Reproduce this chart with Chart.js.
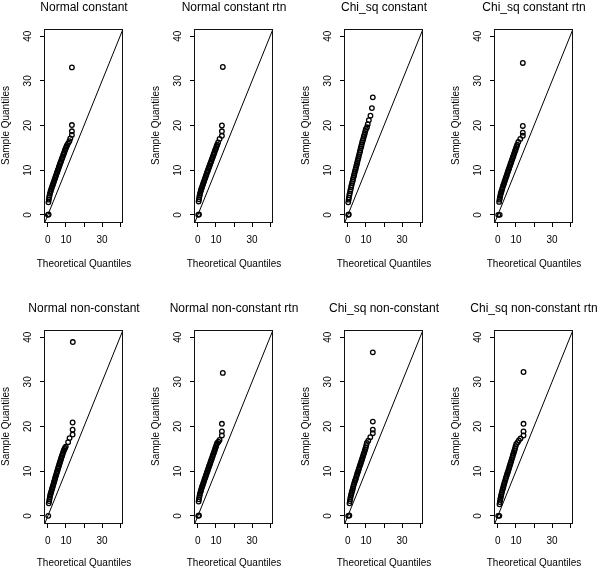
<!DOCTYPE html>
<html><head><meta charset="utf-8">
<script src="https://cdn.jsdelivr.net/npm/chart.js@4.4.0/dist/chart.umd.min.js"></script>
<style>
html,body{margin:0;padding:0;background:#fff;overflow:hidden;width:600px;height:571px;position:relative;}
canvas{position:absolute;}
</style></head><body>
<script>
// ---- data ----
const panelTitles = ['Normal constant','Normal constant rtn','Chi_sq constant','Chi_sq constant rtn',
  'Normal non-constant','Normal non-constant rtn','Chi_sq non-constant','Chi_sq non-constant rtn'];
const axisRange = [-1.6, 41.6];
const refLine = [-1.6, 41.6];
const xTickValues = [0, 10, 20, 30, 40];
const xTickLabels = ['0', '10', '', '30', ''];
const yTickValues = [0, 10, 20, 30, 40];
const yTickLabels = ['0', '10', '20', '30', '40'];
const xAxisTitle = 'Theoretical Quantiles';
const yAxisTitle = 'Sample Quantiles';

const p1Theo = [0.0,0.4,0.3,0.5,0.7,0.9,1.1,1.4,1.6,1.9,2.2,2.5,2.8,3.1,3.4,3.7,4.0,4.3,4.6,4.9,5.2,5.5,5.8,6.1,6.4,6.7,7.0,7.3,7.6,7.9,8.2,8.5,8.8,9.1,9.4,9.7,10.0,10.3,10.6,11.2,11.9,12.4,13.3,13.3,13.3,13.3];
const p1Sample = [0.0,0.1,2.8,3.4,3.9,4.3,4.7,5.1,5.4,5.8,6.1,6.5,6.8,7.2,7.5,7.9,8.2,8.6,8.9,9.3,9.6,10.0,10.3,10.7,11.0,11.4,11.7,12.0,12.4,12.7,13.0,13.4,13.7,14.0,14.4,14.7,15.0,15.3,15.6,16.0,16.5,17.1,17.9,18.7,20.1,33.0];

const p2Theo = [0.2,0.6,0.4,0.6,0.8,1.0,1.2,1.5,1.7,2.0,2.3,2.6,2.9,3.2,3.5,3.8,4.1,4.4,4.7,5.0,5.3,5.6,5.9,6.2,6.5,6.8,7.1,7.4,7.7,8.0,8.3,8.6,8.9,9.2,9.5,9.8,10.1,10.4,10.7,11.2,12.0,13.3,13.3,13.3,13.8];
const p2Sample = [0.0,0.1,3.0,3.5,4.0,4.4,4.8,5.2,5.5,5.9,6.2,6.6,6.9,7.3,7.6,8.0,8.3,8.7,9.0,9.4,9.7,10.0,10.4,10.7,11.0,11.4,11.7,12.0,12.4,12.7,13.0,13.4,13.7,14.0,14.4,14.7,15.0,15.4,15.7,16.2,17.0,17.7,18.7,20.0,33.1];

const p3Theo = [0.2,0.5,0.2,0.4,0.6,0.8,1.0,1.3,1.5,1.8,2.0,2.3,2.6,2.8,3.1,3.4,3.6,3.9,4.2,4.4,4.7,5.0,5.2,5.5,5.8,6.0,6.3,6.6,6.8,7.1,7.4,7.6,7.9,8.2,8.5,8.8,9.1,9.4,9.7,10.0,10.6,11.0,11.6,12.5,13.3,13.8];
const p3Sample = [0.0,0.1,2.8,3.4,3.9,4.4,4.8,5.3,5.7,6.2,6.6,7.1,7.5,7.9,8.4,8.8,9.2,9.7,10.1,10.5,11.0,11.4,11.8,12.3,12.7,13.1,13.6,14.0,14.4,14.9,15.3,15.7,16.2,16.6,17.0,17.5,17.9,18.3,18.8,19.2,19.6,20.3,21.2,22.2,23.9,26.3];

const p4Theo = [0.2,1.0,0.7,0.9,1.1,1.3,1.5,1.8,2.0,2.3,2.6,2.9,3.2,3.5,3.8,4.1,4.4,4.7,5.0,5.3,5.6,5.9,6.2,6.5,6.8,7.1,7.4,7.7,8.0,8.3,8.6,8.9,9.2,9.5,9.8,10.1,10.4,10.7,11.3,12.4,13.8,13.8,13.8,13.8];
const p4Sample = [0.0,0.0,2.9,3.4,3.8,4.2,4.6,5.0,5.3,5.7,6.1,6.5,6.8,7.2,7.6,7.9,8.3,8.6,9.0,9.4,9.7,10.1,10.4,10.8,11.1,11.5,11.8,12.2,12.5,12.9,13.2,13.6,13.9,14.3,14.6,15.0,15.3,15.7,16.3,17.0,17.7,18.4,19.9,34.0];

const p5Theo = [0.2,0.5,0.7,0.9,1.1,1.3,1.5,1.8,2.0,2.3,2.5,2.8,3.0,3.3,3.5,3.8,4.0,4.3,4.5,4.8,5.0,5.3,5.5,5.8,6.0,6.3,6.5,6.8,7.0,7.3,7.5,7.8,8.0,8.3,8.6,8.9,9.2,9.5,9.9,11.2,12.0,13.7,13.7,13.7,13.8];
const p5Sample = [0.0,2.8,3.3,3.8,4.2,4.6,4.9,5.3,5.6,6.0,6.3,6.7,7.0,7.4,7.7,8.1,8.4,8.8,9.1,9.5,9.8,10.1,10.5,10.8,11.1,11.5,11.8,12.1,12.4,12.8,13.1,13.4,13.7,14.0,14.4,14.7,15.0,15.2,15.5,16.5,17.4,18.2,19.3,20.9,38.9];

const p6Theo = [0.2,0.6,0.4,0.6,0.8,1.0,1.2,1.5,1.7,2.0,2.3,2.6,2.9,3.2,3.5,3.8,4.1,4.4,4.7,5.0,5.3,5.6,5.9,6.2,6.5,6.8,7.1,7.4,7.7,8.0,8.3,8.6,8.9,9.2,9.5,9.8,10.1,10.4,10.7,11.4,12.0,13.3,13.3,13.3,13.8];
const p6Sample = [0.0,0.1,3.2,3.7,4.2,4.6,5.0,5.4,5.7,6.1,6.5,6.8,7.2,7.5,7.9,8.3,8.6,9.0,9.3,9.7,10.0,10.4,10.7,11.1,11.4,11.8,12.1,12.5,12.8,13.2,13.5,13.9,14.2,14.6,14.9,15.3,15.6,16.0,16.3,16.6,17.0,18.0,18.9,20.6,32.0];

const p7Theo = [0.2,0.8,0.9,1.1,1.3,1.5,1.7,2.0,2.2,2.5,2.8,3.0,3.3,3.6,3.9,4.2,4.5,4.8,5.1,5.4,5.7,6.0,6.3,6.6,6.9,7.2,7.5,7.8,8.1,8.4,8.7,9.0,9.3,9.6,9.9,10.2,10.5,11.3,12.4,13.8,13.8,13.8,13.8];
const p7Sample = [0.0,0.1,2.8,3.3,3.8,4.2,4.6,5.0,5.4,5.8,6.2,6.6,7.0,7.4,7.8,8.1,8.5,8.9,9.3,9.7,10.0,10.4,10.8,11.2,11.5,11.9,12.3,12.6,13.0,13.4,13.8,14.1,14.5,14.9,15.3,15.8,16.3,16.8,17.6,18.5,19.3,21.1,36.6];

const p8Theo = [0.2,0.8,0.9,1.1,1.3,1.5,1.7,1.9,2.2,2.4,2.7,3.0,3.2,3.5,3.8,4.1,4.4,4.7,5.0,5.3,5.6,5.9,6.2,6.5,6.8,7.1,7.4,7.7,8.0,8.3,8.6,8.9,9.2,9.5,9.8,10.2,11.0,11.6,12.5,14.2,14.2,14.2,14.2];
const p8Sample = [0.0,0.0,2.6,3.1,3.6,4.0,4.4,4.8,5.2,5.6,6.0,6.4,6.8,7.2,7.6,8.0,8.4,8.8,9.2,9.6,9.9,10.3,10.7,11.1,11.5,11.9,12.3,12.7,13.1,13.5,13.9,14.3,14.7,15.1,15.6,16.1,16.5,16.9,17.3,18.0,18.9,20.6,32.2];

const panelTheo = [p1Theo,p2Theo,p3Theo,p4Theo,p5Theo,p6Theo,p7Theo,p8Theo];
const panelSample = [p1Sample,p2Sample,p3Sample,p4Sample,p5Sample,p6Sample,p7Sample,p8Sample];

// ---- drawing ----
Chart.defaults.font.family = "'Liberation Sans', Arial, sans-serif";
Chart.defaults.color = '#000';

const boxPlugin = {
  id: 'plotBox',
  afterDatasetsDraw(chart) {
    const {ctx, chartArea: a} = chart;
    ctx.save();
    ctx.strokeStyle = '#111';
    ctx.lineWidth = 1;
    ctx.strokeRect(Math.round(a.left) - 0.5, Math.round(a.top) + 0.5,
      Math.round(a.right - a.left), Math.round(a.bottom - a.top));
    ctx.restore();
  }
};

const rowTops = [0, 301];
const xTitlePad = [14.5, 16.7];
const CW = 168, CH = 285;

panelTitles.forEach((title, k) => {
  const row = Math.floor(k / 4), col = k % 4;
  const cv = document.createElement('canvas');
  cv.width = CW; cv.height = CH;
  cv.style.left = (col * 150) + 'px';
  cv.style.top = rowTops[row] + 'px';
  cv.style.width = CW + 'px'; cv.style.height = CH + 'px';
  document.body.appendChild(cv);
  const pts = panelTheo[k].map((t, i) => ({x: t, y: panelSample[k][i]}));
  const subH = 12 + xTitlePad[row];
  new Chart(cv, {
    type: 'scatter',
    data: {
      datasets: [
        { type: 'line', data: refLine.map(v => ({x: v, y: v})), borderColor: '#000', borderWidth: 1,
          pointRadius: 0, fill: false, tension: 0, xAxisID: 'x', yAxisID: 'y' },
        { data: pts, pointStyle: 'circle', pointRadius: 2.3, borderWidth: 1.3,
          borderColor: '#000', backgroundColor: 'rgba(0,0,0,0)', xAxisID: 'x', yAxisID: 'y' }
      ]
    },
    options: {
      responsive: false, animation: false, devicePixelRatio: 1,
      layout: {padding: 0},
      plugins: {
        legend: {display: false}, tooltip: {enabled: false},
        title: {display: true, text: title, fullSize: true, color: '#000',
          font: {size: 12, weight: 'normal'}, padding: {top: 0, bottom: 14.6}},
        subtitle: {display: true, text: xAxisTitle, position: 'bottom', fullSize: true, color: '#000',
          font: {size: 10, weight: 'normal'}, padding: {top: 0, bottom: xTitlePad[row]}}
      },
      scales: {
        x: {
          type: 'linear', position: 'bottom', min: axisRange[0], max: axisRange[1],
          afterBuildTicks: s => { s.ticks = xTickValues.map(v => ({value: v})); },
          afterFit: s => { s.height = 63 - subH; },
          ticks: {autoSkip: false, maxRotation: 0, minRotation: 0, padding: 7, color: '#000',
            font: {size: 10}, callback: (v, i) => xTickLabels[i]},
          grid: {drawOnChartArea: false, drawTicks: true, tickLength: 5, color: '#000', lineWidth: 1},
          border: {display: false},
          title: {display: false}
        },
        y: {
          type: 'linear', position: 'left', min: axisRange[0], max: axisRange[1],
          afterBuildTicks: s => { s.ticks = yTickValues.map(v => ({value: v})); },
          afterFit: s => { s.width = 45; },
          ticks: {autoSkip: false, minRotation: 90, maxRotation: 90, crossAlign: 'center', padding: 6,
            color: '#000', font: {size: 10}, callback: (v, i) => yTickLabels[i]},
          grid: {drawOnChartArea: false, drawTicks: true, tickLength: 5, color: '#000', lineWidth: 1},
          border: {display: false},
          title: {display: true, text: yAxisTitle, color: '#000', font: {size: 10},
            padding: {top: 0, bottom: 0}}
        },
        yPad: {
          type: 'linear', axis: 'y', position: 'right',
          afterFit: s => { s.width = CW - 123; },
          ticks: {display: false}, grid: {display: false}, border: {display: false},
          title: {display: false}
        }
      }
    },
    plugins: [boxPlugin]
  });
});
</script>
</body></html>
